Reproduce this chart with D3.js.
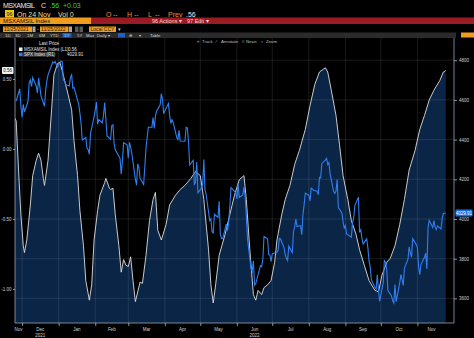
<!DOCTYPE html>
<html><head><meta charset="utf-8">
<script src="https://cdn.jsdelivr.net/npm/d3@7"></script>
<style>
html,body{margin:0;padding:0;background:#000;overflow:hidden}
svg{display:block;font-family:"Liberation Sans",Arial,sans-serif}
</style>
</head><body>
<svg id="chart" width="474" height="338"></svg>
<script>
// MSXAMSIL Index (left axis), sampled closes
const msxDates = ["2021-11-25","2021-11-26","2021-11-28","2021-11-30","2021-12-02","2021-12-03","2021-12-05","2021-12-08","2021-12-10","2021-12-13","2021-12-15","2021-12-17","2021-12-19","2021-12-20","2021-12-23","2021-12-26","2021-12-28","2021-12-31","2022-01-02","2022-01-04","2022-01-06","2022-01-09","2022-01-12","2022-01-14","2022-01-17","2022-01-19","2022-01-22","2022-01-24","2022-01-27","2022-01-29","2022-01-31","2022-02-03","2022-02-05","2022-02-09","2022-02-10","2022-02-13","2022-02-14","2022-02-16","2022-02-18","2022-02-21","2022-02-23","2022-02-25","2022-02-27","2022-03-01","2022-03-03","2022-03-05","2022-03-07","2022-03-09","2022-03-11","2022-03-13","2022-03-16","2022-03-19","2022-03-22","2022-03-24","2022-03-26","2022-03-29","2022-04-02","2022-04-05","2022-04-10","2022-04-14","2022-04-18","2022-04-23","2022-04-27","2022-05-01","2022-05-04","2022-05-08","2022-05-10","2022-05-12","2022-05-14","2022-05-17","2022-05-22","2022-05-26","2022-05-30","2022-06-03","2022-06-07","2022-06-09","2022-06-12","2022-06-15","2022-06-17","2022-06-19","2022-06-22","2022-06-24","2022-06-27","2022-06-30","2022-07-03","2022-07-05","2022-07-09","2022-07-12","2022-07-16","2022-07-20","2022-07-24","2022-07-29","2022-08-02","2022-08-06","2022-08-10","2022-08-15","2022-08-17","2022-08-20","2022-08-24","2022-08-27","2022-08-30","2022-09-03","2022-09-06","2022-09-10","2022-09-13","2022-09-17","2022-09-21","2022-09-26","2022-09-29","2022-10-02","2022-10-06","2022-10-09","2022-10-13","2022-10-17","2022-10-21","2022-10-25","2022-10-30","2022-11-03","2022-11-07","2022-11-11","2022-11-15","2022-11-20","2022-11-23","2022-11-25"];
const msxValues = [0.22,0.20,-0.15,-0.47,-0.69,-0.74,-0.65,-0.40,-0.19,-0.08,-0.03,-0.08,-0.21,-0.26,-0.08,0.28,0.53,0.61,0.62,0.56,0.49,0.39,0.28,0.06,-0.19,-0.44,-0.69,-0.94,-1.08,-0.97,-0.65,-0.44,-0.33,-0.24,-0.21,-0.28,-0.29,-0.28,-0.47,-0.69,-0.88,-0.79,-0.83,-0.84,-0.77,-0.94,-1.09,-1.02,-0.95,-0.96,-0.76,-0.51,-0.36,-0.31,-0.58,-0.65,-0.54,-0.40,-0.33,-0.29,-0.26,-0.21,-0.16,-0.19,-0.36,-0.72,-0.97,-1.10,-0.97,-0.76,-0.61,-0.47,-0.33,-0.22,-0.19,-0.36,-0.72,-1.04,-1.08,-1.01,-1.04,-0.99,-0.97,-0.94,-0.81,-0.65,-0.47,-0.36,-0.26,-0.11,-0.01,0.14,0.31,0.46,0.55,0.58,0.55,0.42,0.24,0.03,-0.19,-0.36,-0.51,-0.61,-0.72,-0.83,-0.94,-1.01,-1.02,-0.90,-0.81,-0.78,-0.69,-0.54,-0.36,-0.15,-0.01,0.14,0.24,0.35,0.42,0.49,0.55,0.56];

// SPX Index (right axis), daily closes; last point is the live print
const spxDates = ["2021-11-26","2021-11-29","2021-11-30","2021-12-01","2021-12-02","2021-12-03","2021-12-06","2021-12-07","2021-12-08","2021-12-09","2021-12-10","2021-12-13","2021-12-14","2021-12-15","2021-12-16","2021-12-17","2021-12-20","2021-12-21","2021-12-22","2021-12-23","2021-12-27","2021-12-28","2021-12-29","2021-12-30","2021-12-31","2022-01-03","2022-01-04","2022-01-05","2022-01-06","2022-01-07","2022-01-10","2022-01-11","2022-01-12","2022-01-13","2022-01-14","2022-01-18","2022-01-19","2022-01-20","2022-01-21","2022-01-24","2022-01-25","2022-01-26","2022-01-27","2022-01-28","2022-01-31","2022-02-01","2022-02-02","2022-02-03","2022-02-04","2022-02-07","2022-02-08","2022-02-09","2022-02-10","2022-02-11","2022-02-14","2022-02-15","2022-02-16","2022-02-17","2022-02-18","2022-02-22","2022-02-23","2022-02-24","2022-02-25","2022-02-28","2022-03-01","2022-03-02","2022-03-03","2022-03-04","2022-03-07","2022-03-08","2022-03-09","2022-03-10","2022-03-11","2022-03-14","2022-03-15","2022-03-16","2022-03-17","2022-03-18","2022-03-21","2022-03-22","2022-03-23","2022-03-24","2022-03-25","2022-03-28","2022-03-29","2022-03-30","2022-03-31","2022-04-01","2022-04-04","2022-04-05","2022-04-06","2022-04-07","2022-04-08","2022-04-11","2022-04-12","2022-04-13","2022-04-14","2022-04-18","2022-04-19","2022-04-20","2022-04-21","2022-04-22","2022-04-25","2022-04-26","2022-04-27","2022-04-28","2022-04-29","2022-05-02","2022-05-03","2022-05-04","2022-05-05","2022-05-06","2022-05-09","2022-05-10","2022-05-11","2022-05-12","2022-05-13","2022-05-16","2022-05-17","2022-05-18","2022-05-19","2022-05-20","2022-05-23","2022-05-24","2022-05-25","2022-05-26","2022-05-27","2022-05-31","2022-06-01","2022-06-02","2022-06-03","2022-06-06","2022-06-07","2022-06-08","2022-06-09","2022-06-10","2022-06-13","2022-06-14","2022-06-15","2022-06-16","2022-06-17","2022-06-21","2022-06-22","2022-06-23","2022-06-24","2022-06-27","2022-06-28","2022-06-29","2022-06-30","2022-07-01","2022-07-05","2022-07-06","2022-07-07","2022-07-08","2022-07-11","2022-07-12","2022-07-13","2022-07-14","2022-07-15","2022-07-18","2022-07-19","2022-07-20","2022-07-21","2022-07-22","2022-07-25","2022-07-26","2022-07-27","2022-07-28","2022-07-29","2022-08-01","2022-08-02","2022-08-03","2022-08-04","2022-08-05","2022-08-08","2022-08-09","2022-08-10","2022-08-11","2022-08-12","2022-08-15","2022-08-16","2022-08-17","2022-08-18","2022-08-19","2022-08-22","2022-08-23","2022-08-24","2022-08-25","2022-08-26","2022-08-29","2022-08-30","2022-08-31","2022-09-01","2022-09-02","2022-09-06","2022-09-07","2022-09-08","2022-09-09","2022-09-12","2022-09-13","2022-09-14","2022-09-15","2022-09-16","2022-09-19","2022-09-20","2022-09-21","2022-09-22","2022-09-23","2022-09-26","2022-09-27","2022-09-28","2022-09-29","2022-09-30","2022-10-03","2022-10-04","2022-10-05","2022-10-06","2022-10-07","2022-10-10","2022-10-11","2022-10-12","2022-10-13","2022-10-14","2022-10-17","2022-10-18","2022-10-19","2022-10-20","2022-10-21","2022-10-24","2022-10-25","2022-10-26","2022-10-27","2022-10-28","2022-10-31","2022-11-01","2022-11-02","2022-11-03","2022-11-04","2022-11-07","2022-11-08","2022-11-09","2022-11-10","2022-11-11","2022-11-14","2022-11-15","2022-11-16","2022-11-17","2022-11-18","2022-11-21","2022-11-22","2022-11-23","2022-11-25"];
const spxValues = [4594.6,4655.3,4567.0,4513.0,4577.1,4538.4,4591.7,4686.8,4701.2,4667.5,4712.0,4669.0,4634.1,4709.9,4668.7,4620.6,4568.0,4649.2,4696.6,4725.8,4791.2,4786.4,4793.1,4778.7,4766.2,4796.6,4793.5,4700.6,4696.1,4677.0,4670.3,4713.1,4726.4,4659.0,4662.9,4577.1,4532.8,4482.7,4397.9,4410.1,4356.5,4349.9,4326.5,4431.9,4515.6,4546.5,4589.4,4477.4,4500.5,4483.9,4521.5,4587.2,4504.1,4418.6,4401.7,4471.1,4475.0,4380.3,4348.9,4304.8,4225.5,4288.7,4384.7,4373.9,4306.3,4386.5,4363.5,4328.9,4201.1,4170.7,4277.9,4259.5,4204.3,4173.1,4262.5,4357.9,4411.7,4463.1,4461.2,4511.6,4456.2,4520.2,4543.1,4575.5,4631.6,4602.5,4530.4,4545.9,4582.6,4525.1,4481.2,4500.2,4488.3,4412.5,4397.5,4446.6,4392.6,4391.7,4462.2,4459.5,4393.7,4271.8,4296.1,4175.2,4184.0,4287.5,4131.9,4155.4,4175.5,4300.2,4146.9,4123.3,3991.2,4001.1,3935.2,3930.1,4023.9,4008.0,4088.9,3923.7,3900.8,3901.4,3973.8,3941.5,3978.7,4057.8,4158.2,4132.2,4101.2,4176.8,4108.5,4121.4,4160.7,4115.8,4017.8,3900.9,3749.6,3735.5,3790.0,3666.8,3674.8,3764.8,3759.9,3795.7,3911.7,3900.1,3821.6,3818.8,3785.4,3825.3,3831.4,3845.1,3902.6,3899.4,3854.4,3818.8,3801.8,3790.4,3863.2,3830.9,3936.7,3959.9,3999.0,3961.6,3966.8,3921.1,4023.6,4072.4,4130.3,4118.6,4091.2,4155.2,4151.9,4145.2,4140.1,4122.5,4210.2,4207.3,4280.2,4297.1,4305.2,4274.0,4283.7,4228.5,4138.0,4128.7,4140.8,4199.1,4057.7,4030.6,3986.2,3955.0,3966.9,3924.3,3908.2,3979.9,4006.2,4067.4,4110.4,3932.7,3946.0,3901.4,3873.3,3899.9,3855.9,3789.9,3758.0,3693.2,3655.0,3647.3,3719.0,3640.5,3585.6,3678.4,3790.9,3783.3,3744.5,3639.7,3612.4,3588.8,3577.0,3669.9,3583.1,3678.0,3720.0,3695.2,3665.8,3752.8,3797.3,3859.1,3830.6,3807.3,3901.1,3872.0,3856.1,3759.7,3719.9,3770.6,3806.8,3828.1,3748.6,3956.4,3992.9,3957.3,3991.7,3958.8,3946.6,3965.3,3949.9,4003.6,4027.3,4029.91];

const leftTicks = [-1.0, -0.5, 0.0, 0.5];
const rightTicks = [3600, 3800, 4000, 4200, 4400, 4600, 4800];
const monthNames = ["Nov","Dec","Jan","Feb","Mar","Apr","May","Jun","Jul","Aug","Sep","Oct","Nov"];
const yearLabels = [["2021","2021-12"],["2022","2022-06"]];
const rangeButtons = ["1D","3D","1M","6M","YTD","1Y","5Y","Max"];

const parse = d3.timeParse("%Y-%m-%d");
const msx = msxDates.map((d,i)=>({date:parse(d), v:msxValues[i]}));
const spx = spxDates.map((d,i)=>({date:parse(d), v:spxValues[i]}));
const lastMsx = msx[msx.length-1].v;
const lastSpx = spx[spx.length-1].v;
const shortFmt = v => d3.format(".2f")(v).replace(/^0/,"");

const svg = d3.select("#chart");
const W = 474, H = 338;
const plot = {left:15, right:454, top:38, bottom:323};

// ---------- header ----------
const hdr = svg.append("g").attr("font-size",7);
hdr.append("text").attr("x",3).attr("y",8).attr("fill","#e6e6e6").attr("textLength",32).text("MSXAMSIL");
hdr.append("text").attr("x",41).attr("y",8).attr("fill","#e6e6e6").text("C");
hdr.append("text").attr("x",49.5).attr("y",8).attr("fill","#3ccf3c").text(shortFmt(lastMsx));
hdr.append("text").attr("x",63).attr("y",8).attr("fill","#3ccf3c").text("+0.03");

hdr.append("rect").attr("x",5).attr("y",10).attr("width",9).attr("height",7.5).attr("fill","#f0c419");
hdr.append("text").attr("x",9.5).attr("y",16).attr("text-anchor","middle").attr("font-size",5.5).attr("fill","#222").text("96");
hdr.append("text").attr("x",17).attr("y",16.5).attr("fill","#f0dca0").text("On 24 Nov");
hdr.append("text").attr("x",58).attr("y",16.5).attr("fill","#f0dca0").text("Vol 0");
[["O",106],["H",127],["L",148]].forEach(([t,x])=>{
  hdr.append("text").attr("x",x).attr("y",16.5).attr("fill","#e8943a").text(t);
  hdr.append("text").attr("x",x+7).attr("y",16.5).attr("fill","#e8943a").text("--");
});
hdr.append("text").attr("x",168).attr("y",16.5).attr("fill","#e8943a").text("Prev");
hdr.append("text").attr("x",186).attr("y",16.5).attr("fill","#e6e6e6").text(shortFmt(lastMsx));

// security bar
svg.append("rect").attr("x",0).attr("y",17.5).attr("width",91).attr("height",6.5).attr("fill","#f29c1f");
svg.append("rect").attr("x",91).attr("y",17.5).attr("width",W-91).attr("height",6.5).attr("fill","#9b1b24");
svg.append("text").attr("x",3).attr("y",23).attr("font-size",6).attr("fill","#1a1208").text("MSXAMSIL Index");
svg.append("text").attr("x",152).attr("y",23).attr("font-size",5.5).attr("fill","#f3d6d6").text("96 Actions \u25BE");
svg.append("text").attr("x",187).attr("y",23).attr("font-size",5.5).attr("fill","#f3d6d6").text("97 Edit \u25BE");

// date range row
const dr = svg.append("g").attr("font-size",5);
dr.append("rect").attr("x",3).attr("y",26.5).attr("width",29).attr("height",5.5).attr("fill","#f29c1f");
dr.append("text").attr("x",4).attr("y",31).attr("fill","#2a1a05").text("11/25/2021");
dr.append("rect").attr("x",32.5).attr("y",26.5).attr("width",3).attr("height",5.5).attr("fill","#a9a9a9");
dr.append("text").attr("x",37).attr("y",31).attr("fill","#ddd").text("-");
dr.append("rect").attr("x",40).attr("y",26.5).attr("width",28.5).attr("height",5.5).attr("fill","#f29c1f");
dr.append("text").attr("x",41).attr("y",31).attr("fill","#2a1a05").text("11/25/2022");
dr.append("rect").attr("x",69).attr("y",26.5).attr("width",3).attr("height",5.5).attr("fill","#a9a9a9");
dr.append("rect").attr("x",75).attr("y",26.5).attr("width",3.5).attr("height",5.5).attr("fill","#5a5a5a");
dr.append("rect").attr("x",79.5).attr("y",26.5).attr("width",3.5).attr("height",5.5).attr("fill","#5a5a5a");
dr.append("rect").attr("x",89).attr("y",26.5).attr("width",27).attr("height",5.5).attr("fill","#f29c1f");
dr.append("text").attr("x",90.5).attr("y",31).attr("fill","#2a1a05").text("Local CCY");
dr.append("text").attr("x",117.5).attr("y",31).attr("fill","#ddd").text("\u25BE");

// toolbar row
svg.append("rect").attr("x",0).attr("y",32.5).attr("width",456).attr("height",5.5).attr("fill","#2b2b2b");
svg.append("rect").attr("x",461).attr("y",32.5).attr("width",13).attr("height",5).attr("fill","#f29c1f");
const tb = svg.append("g").attr("font-size",4.3).attr("fill","#d8d8d8");
const btnX = [5,15,27,39,50,64,77,86];
rangeButtons.forEach((b,i)=>{
  if(b==="1Y"){ tb.append("rect").attr("x",btnX[i]-1.5).attr("y",33).attr("width",9).attr("height",4.5).attr("fill","#1f5fbf"); }
  tb.append("text").attr("x",btnX[i]).attr("y",37).text(b);
});
tb.append("text").attr("x",97).attr("y",37).text("Daily \u25BE");
tb.append("rect").attr("x",118).attr("y",33).attr("width",7).attr("height",4.5).attr("fill","#1f5fbf");
tb.append("text").attr("x",129).attr("y",37).text("\u229E");
tb.append("text").attr("x",139).attr("y",37).text("\u25BE");
tb.append("text").attr("x",150).attr("y",37).text("Table");

// ---------- scales ----------
const x = d3.scaleTime().domain([parse("2021-11-25"), parse("2022-12-02")]).range([plot.left, plot.right]);
const yL = d3.scaleLinear().domain([-1, 0.5]).range([289, 79]);
const yR = d3.scaleLinear().domain([3600, 4800]).range([298.4, 60.2]);
const lastDate = spx[spx.length-1].date;

// clip for the plotting panel
svg.append("defs").append("clipPath").attr("id","pc")
  .append("rect").attr("x",plot.left).attr("y",plot.top).attr("width",plot.right-plot.left).attr("height",plot.bottom-plot.top);

const panel = svg.append("g").attr("clip-path","url(#pc)");

// area under MSXAMSIL
panel.append("path").datum(msx)
  .attr("fill","#0b2546")
  .attr("d", d3.area().x(d=>x(d.date)).y0(plot.bottom).y1(d=>yL(d.v)));

// grid: month starts and right-axis levels
const monthStarts = d3.timeMonth.range(parse("2021-12-01"), parse("2022-12-01"));
panel.append("g").selectAll("line").data(monthStarts).join("line")
  .attr("x1",d=>x(d)).attr("x2",d=>x(d)).attr("y1",plot.top).attr("y2",plot.bottom)
  .attr("stroke","rgba(200,210,225,0.16)").attr("stroke-width",0.8);
panel.append("g").selectAll("line").data(rightTicks).join("line")
  .attr("x1",plot.left).attr("x2",plot.right).attr("y1",d=>yR(d)).attr("y2",d=>yR(d))
  .attr("stroke","rgba(200,210,225,0.16)").attr("stroke-width",0.8);

// series lines
panel.append("path").datum(msx).attr("fill","none").attr("stroke","#dedede").attr("stroke-width",0.9)
  .attr("d", d3.line().x(d=>x(d.date)).y(d=>yL(d.v)));
panel.append("path").datum(spx).attr("fill","none").attr("stroke","#2f7ff2").attr("stroke-width",1.1)
  .attr("d", d3.line().x(d=>x(d.date)).y(d=>yR(d.v)));

// ---------- axes ----------
const axL = svg.append("g").attr("transform",`translate(${plot.left},0)`)
  .call(d3.axisLeft(yL).tickValues(leftTicks).tickSize(2).tickPadding(1.5).tickFormat(d=>d.toFixed(2)));
axL.select(".domain").attr("d",`M0,${plot.top}V${plot.bottom}`);
const axR = svg.append("g").attr("transform",`translate(${plot.right},0)`)
  .call(d3.axisRight(yR).tickValues(rightTicks).tickSize(3).tickPadding(2).tickFormat(d3.format("d")));
axR.select(".domain").attr("d",`M0,${plot.top}V${plot.bottom}`);
const axB = svg.append("g").attr("transform",`translate(0,${plot.bottom})`)
  .call(d3.axisBottom(x).tickValues(monthStarts).tickSize(3).tickFormat(""));
axB.select(".domain").attr("d",`M${plot.left},0H${plot.right}`);
[axL,axR,axB].forEach(a=>{
  a.attr("font-size",4.5).attr("font-family","Liberation Sans, Arial, sans-serif");
  a.selectAll(".domain").attr("stroke","#9aa4b2").attr("stroke-width",0.8);
  a.selectAll(".tick line").attr("stroke","#c8c8c8").attr("stroke-width",0.7);
  a.selectAll(".tick text").attr("fill","#d0d0d0");
});
axR.select(".domain").attr("stroke","#8fa3c0");

// month labels centred on each month's visible span
const months = monthNames.map((m,i)=>{
  const s = d3.timeMonth.offset(parse("2021-11-01"), i);
  const e = d3.timeMonth.offset(s, 1);
  const a = s < x.domain()[0] ? x.domain()[0] : s;
  const b = e > lastDate ? lastDate : e;
  return {m, mid:new Date((+a + +b)/2)};
});
svg.append("g").selectAll("text").data(months).join("text")
  .attr("x",d=>x(d.mid)).attr("y",331).attr("text-anchor","middle")
  .attr("font-size",4.5).attr("fill","#d0d0d0").text(d=>d.m);
svg.append("g").selectAll("text").data(yearLabels).join("text")
  .attr("x",d=>{const s=d3.timeParse("%Y-%m")(d[1]); return x(new Date((+s + +d3.timeMonth.offset(s,1))/2));})
  .attr("y",336.5).attr("text-anchor","middle").attr("font-size",4.5).attr("fill","#d0d0d0").text(d=>d[0]);

// last value tags
svg.append("rect").attr("x",2).attr("y",yL(lastMsx)-3.5).attr("width",11.5).attr("height",7).attr("rx",1).attr("fill","#f2f2f2");
svg.append("text").attr("x",7.75).attr("y",yL(lastMsx)+1.7).attr("text-anchor","middle").attr("font-size",4.5).attr("fill","#111").text(lastMsx.toFixed(2));
svg.append("rect").attr("x",455.5).attr("y",yR(lastSpx)-3.5).attr("width",17).attr("height",7).attr("rx",1).attr("fill","#1f6ee6");
svg.append("text").attr("x",464).attr("y",yR(lastSpx)+1.7).attr("text-anchor","middle").attr("font-size",4.5).attr("fill","#fff").text(lastSpx.toFixed(2));

// legend
const lg = svg.append("g").attr("font-size",4.5).attr("fill","#e0e0e0");
lg.append("text").attr("x",49).attr("y",45).attr("text-anchor","middle").text("Last Price");
lg.append("rect").attr("x",19).attr("y",47.5).attr("width",3.5).attr("height",3.5).attr("fill","#f0f0f0");
lg.append("text").attr("x",24).attr("y",51).text("MSXAMSIL Index  (L1)");
lg.append("text").attr("x",68).attr("y",51).text(lastMsx.toFixed(2));
lg.append("rect").attr("x",23).attr("y",52.2).attr("width",31).attr("height",4.6).attr("fill","#3a3a3a");
lg.append("rect").attr("x",19).attr("y",52.7).attr("width",3.5).attr("height",3.5).attr("fill","#2f7ff2");
lg.append("text").attr("x",24).attr("y",56).text("SPX Index  (R1)");
lg.append("text").attr("x",67).attr("y",56).text(lastSpx.toFixed(2));

// chart tools
const tools = svg.append("g").attr("font-size",4.3).attr("fill","#bdbdbd");
[["\u2316",197],["Track",202],["\u2044",216],["Annotate",221],["\u2261",242],["News",246],["\u2315",261],["Zoom",266]]
  .forEach(([t,xx])=>tools.append("text").attr("x",xx).attr("y",43).text(t));
</script>
</body></html>
